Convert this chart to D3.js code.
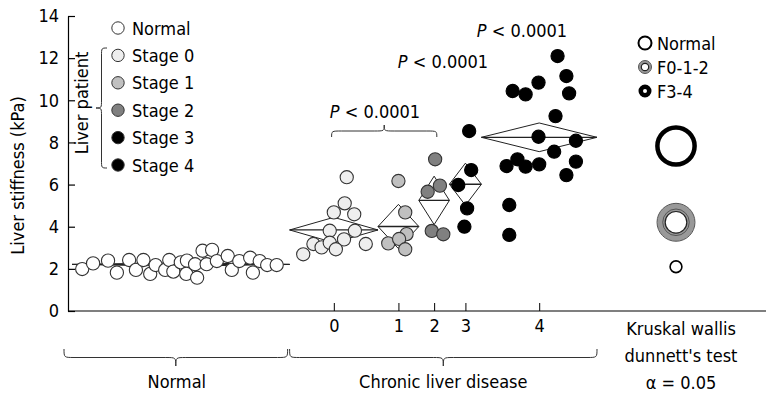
<!DOCTYPE html>
<html>
<head>
<meta charset="utf-8">
<script src="https://cdn.jsdelivr.net/npm/d3@7"></script>
<style>
  html, body { margin: 0; padding: 0; background: #fff; }
  svg { display: block; }
  text { font-family: "DejaVu Sans Condensed", "DejaVu Sans", sans-serif; font-stretch: condensed; font-size: 18px; fill: #000; }
</style>
</head>
<body>
<svg id="chart" width="771" height="400"></svg>
<script>
// ---------------- data ----------------
const groupNames = ["Normal", "Stage 0", "Stage 1", "Stage 2", "Stage 3", "Stage 4"];
const groupTickLabels = ["", "0", "1", "2", "3", "4"];
const groupWidths = [32, 13, 6, 4.5, 4.7, 17];      // group span (JMP width ∝ n)
const groupFills = ["#ffffff", "#eeeeee", "#c0c0c0", "#808080", "#000000", "#000000"];
const groupCIHalf = [0.08, 0.6, 1.05, 1.15, 1.0, 0.68]; // means-diamond half height (kPa)

// points: [position within x domain, liver stiffness kPa]
const normalPts = [[1.5,1.99],[3.1,2.26],[5.3,2.39],[6.6,1.82],[8.4,2.42],[9.4,1.95],[10.5,2.42],[11.5,1.76],
  [12.3,2.18],[13.7,1.95],[14.3,2.42],[14.9,1.87],[16.0,2.31],[16.9,2.39],[16.8,1.76],[18.1,2.22],[18.4,1.58],
  [19.2,2.86],[20.6,2.90],[19.8,2.22],[21.3,2.37],[22.9,2.61],[23.5,1.95],[24.6,2.37],[26.2,2.53],[26.6,1.82],
  [27.6,2.37],[28.7,2.18],[30.1,2.18]];
const stage0Pts = [[40.4,6.35],[40.1,5.11],[38.5,4.68],[41.5,4.59],[37.9,3.81],[41.6,3.81],[35.5,3.18],
  [36.7,3.02],[37.9,3.24],[40.0,3.40],[38.8,2.93],[43.2,3.18],[34.0,2.69]];
const stage1Pts = [[48.0,6.17],[49.0,4.68],[49.2,3.65],[46.5,3.21],[48.1,3.42],[49.0,2.93]];
const stage2Pts = [[53.4,7.20],[52.3,5.66],[54.1,5.95],[52.9,3.80],[54.6,3.64]];
const stage3Pts = [[58.7,6.69],[56.8,5.98],[58.1,4.87],[57.7,4.00],[58.4,8.54]];
const stage4Pts = [[71.4,12.10],[72.7,11.15],[68.6,10.84],[64.8,10.44],[66.7,10.28],[73.1,10.33],[71.1,9.25],
  [68.6,8.27],[74.1,8.08],[70.9,7.56],[65.5,7.20],[63.9,6.88],[66.7,6.85],[68.7,6.96],[74.1,7.09],[72.7,6.45],
  [64.3,5.03],[64.3,3.61]];
const groupPoints = [normalPts, stage0Pts, stage1Pts, stage2Pts, stage3Pts, stage4Pts];

const yTicks = [0, 2, 4, 6, 8, 10, 12, 14];

// comparison circles (Kruskal-Wallis / Dunnett)
const compNames = ["Normal", "F0-1-2", "F3-4"];
const compMeans = [2.1, 4.21, 7.83];
const compRadius = [0.28, 0.9, 0.99];   // kPa

const pLabels = ["< 0.0001", "< 0.0001", "< 0.0001"];
const bottomLabels = ["Normal", "Chronic liver disease"];
const testLabels = ["Kruskal wallis", "dunnett's test", "\u03b1 = 0.05"];

// ---------------- layout ----------------
const svg = d3.select("#chart");
const totalW = d3.sum(groupWidths);
const starts = d3.cumsum([0, ...groupWidths]);
const x = d3.scaleLinear().domain([0, totalW]).range([72, 597]);
const y = d3.scaleLinear().domain([0, 14]).range([311, 16]);
const axisLeftX = 68, axisRightX = 766;

// y axis
const yAxis = svg.append("g").attr("transform", `translate(${axisLeftX},0)`)
  .call(d3.axisLeft(y).tickValues(yTicks).tickSize(-7).tickSizeOuter(0).tickPadding(9));
yAxis.selectAll("path,line").attr("stroke", "#000").attr("stroke-width", 1.2);
yAxis.selectAll("text").style("font-size", "18px").attr("fill", "#000");

// x axis line + stage ticks
svg.append("line").attr("x1", axisLeftX).attr("x2", axisRightX).attr("y1", y(0)).attr("y2", y(0))
  .attr("stroke", "#000").attr("stroke-width", 1.2);
const centers = groupWidths.map((w, i) => starts[i] + w / 2);
const stageIdx = d3.range(1, groupNames.length);
const xAxis = svg.append("g").attr("transform", `translate(0,${y(0)})`)
  .call(d3.axisBottom(x).tickValues(stageIdx.map(i => centers[i]))
    .tickFormat((d, i) => groupTickLabels[stageIdx[i]]).tickSize(-8).tickPadding(8));
xAxis.select(".domain").remove();
xAxis.selectAll("line").attr("stroke", "#000").attr("stroke-width", 1);
xAxis.selectAll("text").style("font-size", "18px").attr("fill", "#000");

// y title
svg.append("text").attr("transform", `translate(24,${(y(0) + y(14)) / 2 + 12}) rotate(-90)`)
  .attr("text-anchor", "middle").text("Liver stiffness (kPa)");

// means diamonds
groupPoints.forEach((pts, i) => {
  const m = d3.mean(pts, d => d[1]);
  const x0 = x(starts[i]), x1 = x(starts[i + 1]), xc = (x0 + x1) / 2;
  const h = groupCIHalf[i];
  svg.append("path")
    .attr("d", `M${x0},${y(m)} L${xc},${y(m + h)} L${x1},${y(m)} L${xc},${y(m - h)} Z`)
    .attr("fill", "none").attr("stroke", "#222").attr("stroke-width", 1);
  svg.append("line").attr("x1", x0).attr("x2", x1).attr("y1", y(m)).attr("y2", y(m))
    .attr("stroke", "#222").attr("stroke-width", 1.3);
});

// points
groupPoints.forEach((pts, i) => {
  svg.append("g").selectAll("circle").data(pts).join("circle")
    .attr("cx", d => x(d[0])).attr("cy", d => y(d[1])).attr("r", 6.6)
    .attr("fill", groupFills[i]).attr("stroke", i >= 4 ? "#000" : "#333").attr("stroke-width", 1.1);
});

// left legend
const legY = d3.scaleLinear().domain([0, 5]).range([28, 165]);
groupNames.forEach((n, i) => {
  svg.append("circle").attr("cx", 118).attr("cy", legY(i)).attr("r", 6.2)
    .attr("fill", groupFills[i]).attr("stroke", "#333").attr("stroke-width", 1);
  svg.append("text").attr("x", 132).attr("y", legY(i) + 6.5).text(n);
});
svg.append("text").attr("transform", `translate(88,103) rotate(-90)`).attr("text-anchor", "middle")
  .text("Liver patient");

function hBrace(x1, x2, yb, d) {
  const xm = (x1 + x2) / 2, yh = yb + d / 2, q = 10;
  return `M${x1},${yb} C${x1},${yh} ${x1},${yh} ${x1 + q},${yh} L${xm - q},${yh} C${xm},${yh} ${xm},${yh} ${xm},${yb + d}` +
         ` C${xm},${yh} ${xm},${yh} ${xm + q},${yh} L${x2 - q},${yh} C${x2},${yh} ${x2},${yh} ${x2},${yb}`;
}
function vBrace(y1, y2, xb, d) {
  const ym = (y1 + y2) / 2, xh = xb + d / 2, q = 8;
  return `M${xb},${y1} C${xh},${y1} ${xh},${y1} ${xh},${y1 + q} L${xh},${ym - q} C${xh},${ym} ${xh},${ym} ${xb + d},${ym}` +
         ` C${xh},${ym} ${xh},${ym} ${xh},${ym + q} L${xh},${y2 - q} C${xh},${y2} ${xh},${y2} ${xb},${y2}`;
}
const braceStyle = s => s.attr("fill", "none").attr("stroke", "#333").attr("stroke-width", 1);
svg.append("path").attr("d", vBrace(48, 168, 107, -11)).call(braceStyle);

// p-values
const pPos = [[375, 118], [443, 68], [522, 37]];
pLabels.forEach((t, i) => {
  const tx = svg.append("text").attr("x", pPos[i][0]).attr("y", pPos[i][1]).attr("text-anchor", "middle");
  tx.append("tspan").attr("font-style", "italic").text("P");
  tx.append("tspan").text(" " + t);
});
svg.append("path").attr("d", hBrace(x(starts[1]) + 42, x(starts[3]) + 18, 137, -12)).call(braceStyle);

// bottom braces & labels
svg.append("path").attr("d", hBrace(64, x(starts[1]) - 2, 349, 17)).call(braceStyle);
svg.append("path").attr("d", hBrace(x(starts[1]), x(totalW), 349, 17)).call(braceStyle);
svg.append("text").attr("x", (64 + x(starts[1])) / 2).attr("y", 388).attr("text-anchor", "middle").text(bottomLabels[0]);
svg.append("text").attr("x", (x(starts[1]) + x(totalW)) / 2).attr("y", 388).attr("text-anchor", "middle").text(bottomLabels[1]);
testLabels.forEach((t, i) => {
  svg.append("text").attr("x", 681).attr("y", 335 + i * 27).attr("text-anchor", "middle").text(t);
});

// comparison circles
const compX = 676;
function drawComp(g, cx, cy, r, k, legend) {
  if (k === 0) {
    g.append("circle").attr("cx", cx).attr("cy", cy).attr("r", r).attr("fill", "#fff")
      .attr("stroke", "#000").attr("stroke-width", legend ? 2 : 1.6);
  } else if (k === 1) {
    g.append("circle").attr("cx", cx).attr("cy", cy).attr("r", r * 0.78).attr("fill", "none")
      .attr("stroke", "#999").attr("stroke-width", r * 0.42);
    g.append("circle").attr("cx", cx).attr("cy", cy).attr("r", r).attr("fill", "none")
      .attr("stroke", "#555").attr("stroke-width", 1);
    g.append("circle").attr("cx", cx).attr("cy", cy).attr("r", r * 0.57).attr("fill", "none")
      .attr("stroke", "#222").attr("stroke-width", 1.2);
    if (!legend) g.append("circle").attr("cx", cx).attr("cy", cy).attr("r", r * 0.7).attr("fill", "none")
      .attr("stroke", "#444").attr("stroke-width", 0.8);
  } else {
    const sw = legend ? 4.5 : 4.5;
    g.append("circle").attr("cx", cx).attr("cy", cy).attr("r", r - sw / 2).attr("fill", "#fff")
      .attr("stroke", "#000").attr("stroke-width", sw);
  }
}
const compG = svg.append("g");
compMeans.forEach((m, k) => {
  const rpx = y(0) - y(compRadius[k]);
  drawComp(compG, compX, y(m), rpx, k, false);
});
// right legend
const rLegY = d3.scaleLinear().domain([0, 2]).range([43, 91]);
compNames.forEach((n, k) => {
  drawComp(compG, 645, rLegY(k), 6.5, k, true);
  svg.append("text").attr("x", 657).attr("y", rLegY(k) + 6.5).text(n);
});
</script>
</body>
</html>
